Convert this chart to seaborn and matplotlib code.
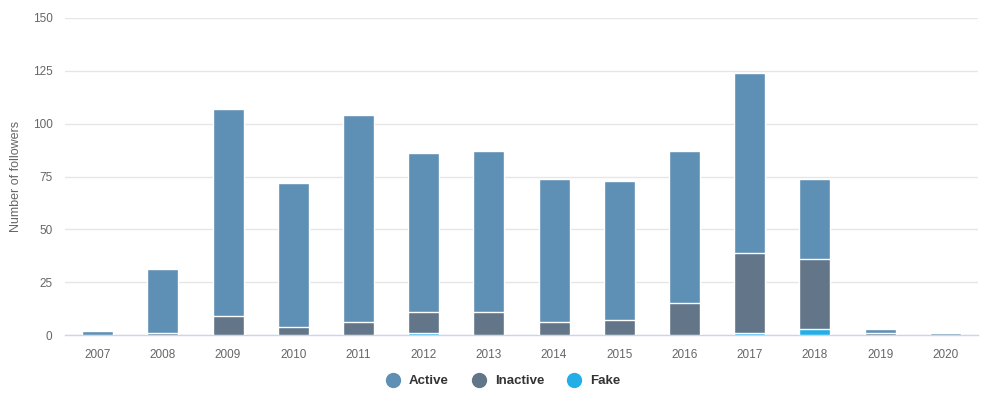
import pandas as pd
import matplotlib
matplotlib.use('Agg')
import matplotlib.pyplot as plt
from matplotlib.lines import Line2D
import seaborn as sns

# Followers by account creation year
years = ['2007', '2008', '2009', '2010', '2011', '2012', '2013',
         '2014', '2015', '2016', '2017', '2018', '2019', '2020']
active = [2, 30, 98, 68, 98, 75, 76, 68, 66, 72, 85, 38, 2, 1]
inactive = [0, 1, 9, 4, 6, 10, 11, 6, 7, 15, 38, 33, 1, 0]
fake = [0, 0, 0, 0, 0, 1, 0, 0, 0, 0, 1, 3, 0, 0]

colors = {'Active': '#5e8fb4', 'Inactive': '#627589', 'Fake': '#23aee8'}

df = pd.DataFrame({'year': years, 'Active': active, 'Inactive': inactive, 'Fake': fake})
df['top_active'] = df['Active'] + df['Inactive'] + df['Fake']
df['top_inactive'] = df['Inactive'] + df['Fake']
df['top_fake'] = df['Fake']

sns.set_style('white')
plt.rcParams['font.family'] = ['Liberation Sans', 'DejaVu Sans']

fig = plt.figure(figsize=(9.87, 3.95), dpi=100)
ax = fig.add_axes([65 / 987, 60 / 395, 913 / 987, 317 / 395])

# stacked bars drawn as layered cumulative totals
for col, name in [('top_active', 'Active'), ('top_inactive', 'Inactive'), ('top_fake', 'Fake')]:
    sub = df[df[col] > 0]
    sns.barplot(data=sub, x='year', y=col, order=years, color=colors[name],
                width=0.475, edgecolor='white', linewidth=1, saturation=1, ax=ax, zorder=3)

ax.set_xlim(-0.5, 13.5)
ax.set_ylim(0, 150)
ax.set_yticks([0, 25, 50, 75, 100, 125, 150])
ax.yaxis.grid(True, color='#e6e6e6', linewidth=1, zorder=0)
ax.set_axisbelow(True)

for s in ['top', 'right', 'left']:
    ax.spines[s].set_visible(False)
ax.spines['bottom'].set_color('#ccd6eb')
ax.spines['bottom'].set_linewidth(1)

ax.set_xticks(range(len(years)))
ax.set_xticklabels(years)
ax.set_xticks([i - 0.5 for i in range(len(years) + 1)], minor=True)
ax.tick_params(axis='x', which='major', length=0, pad=10, labelsize=8.5, labelcolor='#666666')
ax.tick_params(axis='x', which='minor', length=10, width=1, color='#ccd6eb')
ax.tick_params(axis='y', length=0, pad=9, labelsize=8.5, labelcolor='#666666')

ax.set_xlabel('')
ax.set_ylabel('Number of followers', fontsize=9, color='#666666')
ax.yaxis.set_label_coords(-43 / 913, 0.5)

handles = [Line2D([0], [0], marker='o', linestyle='', markersize=10,
                  markerfacecolor=colors[n], markeredgecolor=colors[n]) for n in colors]
leg = fig.legend(handles, list(colors), loc='center', bbox_to_anchor=(500 / 987, 14 / 395),
                 ncol=3, frameon=False, handletextpad=0.2, columnspacing=1.3,
                 prop={'weight': 'bold', 'size': 9.5})
for t in leg.get_texts():
    t.set_color('#333333')

fig.savefig('out.png', dpi=100)
